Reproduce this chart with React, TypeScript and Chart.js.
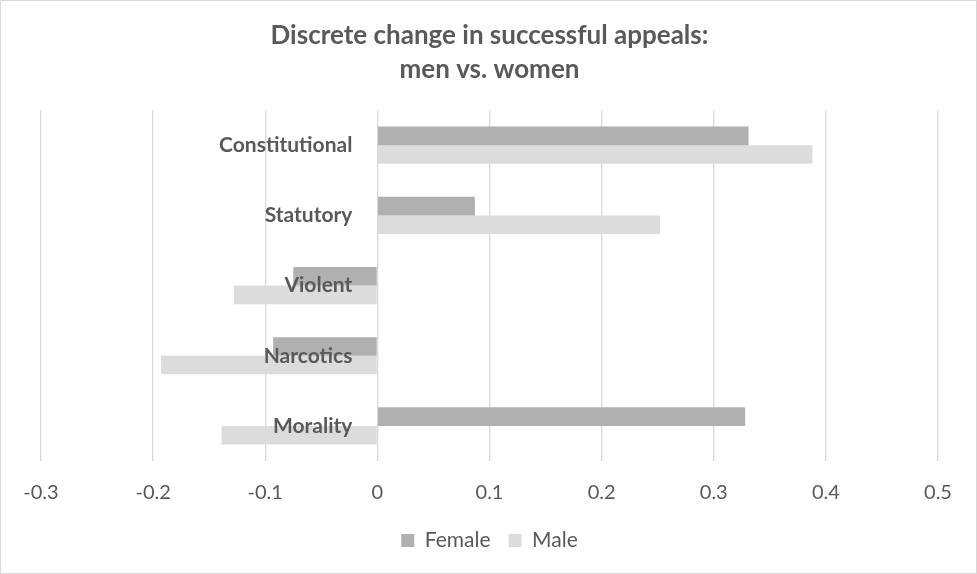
import React, { useEffect, useRef } from "react";
import { Chart, registerables } from "chart.js";

Chart.register(...registerables);

const categories = ["Constitutional", "Statutory", "Violent", "Narcotics", "Morality"];
const femaleValues = [0.331, 0.087, -0.075, -0.093, 0.328];
const maleValues = [0.388, 0.252, -0.128, -0.193, -0.139];
const titleLines = ["Discrete change in successful appeals:", "men vs. women"];
const xMin = -0.3;
const xMax = 0.5;
const xStep = 0.1;

const FONT = "Lato, 'Open Sans', sans-serif";
const TEXT = "#595959";

const categoryLabelPlugin = {
  id: "categoryLabels",
  afterDatasetsDraw(chart: any) {
    const { ctx, scales } = chart;
    const x0 = scales.x.getPixelForValue(0);
    ctx.save();
    ctx.font = `bold 21px ${FONT}`;
    ctx.fillStyle = TEXT;
    ctx.textAlign = "right";
    ctx.textBaseline = "middle";
    categories.forEach((c, i) => {
      const y = scales.y.getPixelForTick(i);
      ctx.fillText(c, x0 - 25, y);
    });
    ctx.restore();
  },
};

const borderPlugin = {
  id: "frame",
  beforeDraw(chart: any) {
    const { ctx, width, height } = chart;
    ctx.save();
    ctx.fillStyle = "#ffffff";
    ctx.fillRect(0, 0, width, height);
    ctx.strokeStyle = "#d9d9d9";
    ctx.lineWidth = 1;
    ctx.strokeRect(0.5, 0.5, width - 1, height - 1);
    ctx.restore();
  },
};

export default function App() {
  const ref = useRef<HTMLCanvasElement | null>(null);
  useEffect(() => {
    if (!ref.current) return;
    const chart = new Chart(ref.current, {
      type: "bar",
      data: {
        labels: categories,
        datasets: [
          {
            label: "Female",
            data: femaleValues,
            backgroundColor: "#b0b0b0",
            categoryPercentage: 0.53,
            barPercentage: 1,
          },
          {
            label: "Male",
            data: maleValues,
            backgroundColor: "#dcdcdc",
            categoryPercentage: 0.53,
            barPercentage: 1,
          },
        ],
      },
      options: {
        indexAxis: "y",
        animation: false,
        responsive: true,
        maintainAspectRatio: false,
        layout: { padding: { left: 41, right: 39, top: 0, bottom: 13 } },
        scales: {
          x: {
            min: xMin,
            max: xMax,
            afterFit: (scale: any) => {
              scale.height = scale.height - 13;
            },
            ticks: {
              stepSize: xStep,
              color: TEXT,
              font: { family: FONT, size: 20 },
              padding: 20,
              callback: (v: any) => String(Math.round(Number(v) * 10) / 10),
            },
            grid: { color: "#d9d9d9", lineWidth: 1.3, drawTicks: false },
            border: { display: false },
          },
          y: {
            display: false,
            grid: { display: false },
          },
        },
        plugins: {
          title: {
            display: true,
            text: titleLines,
            color: TEXT,
            font: { family: FONT, size: 26, weight: "bold", lineHeight: 1.31 },
            padding: { top: 19, bottom: 23 },
          },
          legend: {
            position: "bottom",
            labels: {
              color: TEXT,
              font: { family: FONT, size: 21 },
              boxWidth: 13,
              boxHeight: 13,
              padding: 18,
            },
          },
          tooltip: { enabled: false },
        },
      },
      plugins: [borderPlugin, categoryLabelPlugin],
    });
    return () => chart.destroy();
  }, []);
  return (
    <div style={{ position: "absolute", left: 0, top: 0, width: 977, height: 574 }}>
      <canvas ref={ref} />
    </div>
  );
}
